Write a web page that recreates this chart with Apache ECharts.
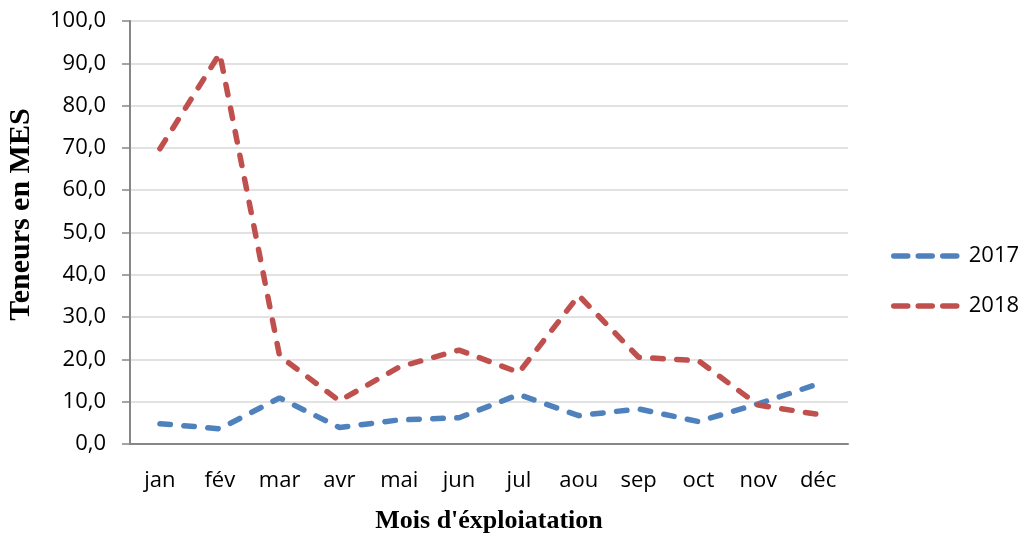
<!DOCTYPE html>
<html>
<head>
<meta charset="utf-8">
<script src="https://cdn.jsdelivr.net/npm/echarts@6/dist/echarts.min.js"></script>
<style>
  html, body { margin: 0; padding: 0; background: #fff; }
  #chart { width: 1023px; height: 534px; }
</style>
</head>
<body>
<div id="chart"></div>
<script>
// Monthly suspended-matter content (MES), 2017 vs 2018
const months = ['jan', 'fév', 'mar', 'avr', 'mai', 'jun', 'jul', 'aou', 'sep', 'oct', 'nov', 'déc'];
const values2017 = [4.8, 3.6, 10.9, 3.9, 5.7, 6.2, 11.7, 6.7, 8.3, 5.3, 9.5, 14.2];
const values2018 = [69.8, 92.3, 20.8, 10.2, 18.2, 22.2, 16.9, 35.1, 20.5, 19.7, 9.2, 7.0];
const yTicks = { min: 0, max: 100, step: 10 };

const chart = echarts.init(document.getElementById('chart'), null, { renderer: 'canvas' });

const labelFont = '"Open Sans", Lato, sans-serif';
const titleFont = '"Liberation Serif", "DejaVu Serif", serif';
const dash = { type: [10.5, 13.5], cap: 'round', width: 5.5 };

chart.setOption({
  animation: false,
  backgroundColor: '#ffffff',
  grid: { left: 130, right: 175, top: 21, bottom: 90, outerBoundsMode: 'none', containLabel: false },
  legend: {
    orient: 'vertical',
    left: 891,
    top: 245,
    padding: 0,
    itemWidth: 64,
    itemHeight: 14,
    itemGap: 28,
    itemStyle: { opacity: 0 },
    lineStyle: { width: 5.5, type: [14, 10.5], cap: 'round' },
    textStyle: { fontFamily: labelFont, fontSize: 22, color: '#000', padding: [0, 0, 0, 6] },
    data: ['2017', '2018']
  },
  xAxis: {
    type: 'category',
    data: months,
    boundaryGap: true,
    axisLine: { show: true, lineStyle: { color: '#868686', width: 2 } },
    axisTick: { show: false },
    axisLabel: { fontFamily: labelFont, fontSize: 22, color: '#000', margin: 26 },
    name: "Mois d'éxploiatation",
    nameLocation: 'middle',
    nameGap: 64,
    nameTextStyle: { fontFamily: titleFont, fontWeight: 'bold', fontSize: 26, color: '#000' }
  },
  yAxis: {
    type: 'value',
    min: yTicks.min,
    max: yTicks.max,
    interval: yTicks.step,
    axisLine: { show: true, lineStyle: { color: '#868686', width: 2 } },
    axisTick: { show: true, length: 8, lineStyle: { color: '#868686', width: 1.5 } },
    splitLine: { show: true, lineStyle: { color: '#d9d9d9', width: 1.5 } },
    axisLabel: {
      fontFamily: labelFont, fontSize: 22, color: '#000', margin: 24,
      formatter: v => v.toFixed(1).replace('.', ',')
    },
    name: 'Teneurs en MES',
    nameLocation: 'middle',
    nameGap: 94,
    nameRotate: 90,
    nameTextStyle: { fontFamily: titleFont, fontWeight: 'bold', fontSize: 30, color: '#000', padding: [0, 0, 0, 36] }
  },
  series: [
    {
      name: '2017',
      type: 'line',
      data: values2017,
      symbol: 'none',
      color: '#4F81BD',
      lineStyle: Object.assign({ color: '#4F81BD' }, dash),
      itemStyle: { color: '#4F81BD' }
    },
    {
      name: '2018',
      type: 'line',
      data: values2018,
      symbol: 'none',
      color: '#C0504D',
      lineStyle: Object.assign({ color: '#C0504D' }, dash),
      itemStyle: { color: '#C0504D' }
    }
  ]
});
</script>
</body>
</html>
